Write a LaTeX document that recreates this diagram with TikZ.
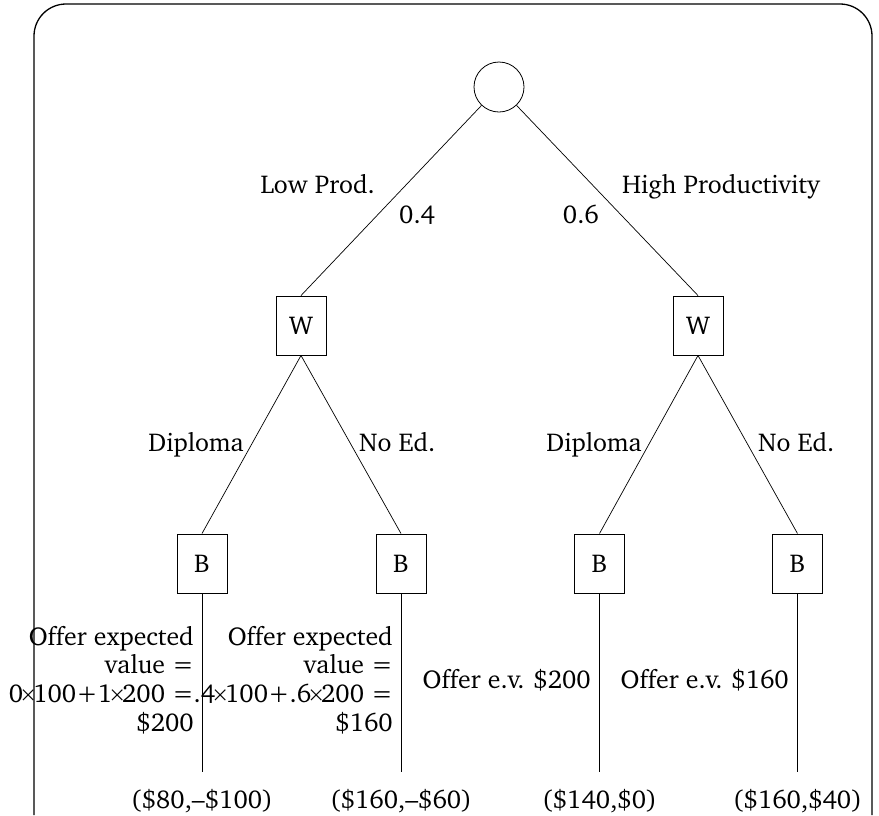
\documentclass[tikz,border=0pt]{standalone}
\usepackage[T1]{fontenc}
\usepackage{textcomp}
\usepackage{charter}
\newcommand{\tms}{{\kern-0.14em\raisebox{0.06em}{\scalebox{0.8}{\texttimes}}\kern-0.14em}}
\begin{document}
\begin{tikzpicture}[x=1pt,y=-1pt,
  every node/.style={font=\fontsize{25.8}{28.8}\selectfont},
  chance/.style={draw, circle, minimum size=50pt, inner sep=0pt, line width=0.8pt},
  player/.style={draw, rectangle, minimum width=50pt, minimum height=59pt, inner sep=0pt, line width=0.9pt},
  edge/.style={line width=0.7pt},
  lbl/.style={inner sep=0pt},
  frame/.style={line width=1.3pt, rounded corners=32pt}]
\useasboundingbox (0,0) rectangle (879,815);
\draw[frame] (34,815) -- (34,4) -- (872,4) -- (872,815);

\node[chance] (root) at (499,87) {};
\node[player] (W1) at (301,325.5) {W};
\node[player] (W2) at (698,325.5) {W};
\node[player] (B1) at (202,563.5) {B};
\node[player] (B2) at (401,563.5) {B};
\node[player] (B3) at (599.5,563.5) {B};
\node[player] (B4) at (797.5,563.5) {B};
\coordinate (e1) at (202,772);
\coordinate (e2) at (401,772);
\coordinate (e3) at (599.5,772);
\coordinate (e4) at (797.5,772);

\draw[edge] (root) -- (W1.north);
\draw[edge] (root) -- (W2.north);
\draw[edge] (W1.south) -- (B1.north);
\draw[edge] (W1.south) -- (B2.north);
\draw[edge] (W2.south) -- (B3.north);
\draw[edge] (W2.south) -- (B4.north);
\draw[edge] (B1.south) -- (e1);
\draw[edge] (B2.south) -- (e2);
\draw[edge] (B3.south) -- (e3);
\draw[edge] (B4.south) -- (e4);

\node[lbl, anchor=base east] (lp) at (375,193) {Low Prod.};
\node[lbl, anchor=base west] (p4) at (399,223) {0.4};
\node[lbl, anchor=base east] (p6) at (599,223) {0.6};
\node[lbl, anchor=base west] (hp) at (622,193) {High Productivity};

\node[lbl, anchor=base east] (d1) at (244,451) {Diploma};
\node[lbl, anchor=base west] (n1) at (359,451) {No Ed.};
\node[lbl, anchor=base east] (d2) at (642,451) {Diploma};
\node[lbl, anchor=base west] (n2) at (758,451) {No Ed.};

\node[lbl, anchor=east, align=right] (o1) at (194,680) {Offer expected\\value =\\0\tms100+1\tms200 =\\\$200};
\node[lbl, anchor=east, align=right] (o2) at (393,680) {Offer expected\\value =\\.4\tms100+.6\tms200 =\\\$160};
\node[lbl, anchor=base east] (o3) at (591,688) {Offer e.v. \$200};
\node[lbl, anchor=base east] (o4) at (789,688) {Offer e.v. \$160};

\node[lbl, anchor=base] (v1) at (202,808) {(\$80,--\$100)};
\node[lbl, anchor=base] (v2) at (401,808) {(\$160,--\$60)};
\node[lbl, anchor=base] (v3) at (599.5,808) {(\$140,\$0)};
\node[lbl, anchor=base] (v4) at (797.5,808) {(\$160,\$40)};
\end{tikzpicture}
\end{document}
